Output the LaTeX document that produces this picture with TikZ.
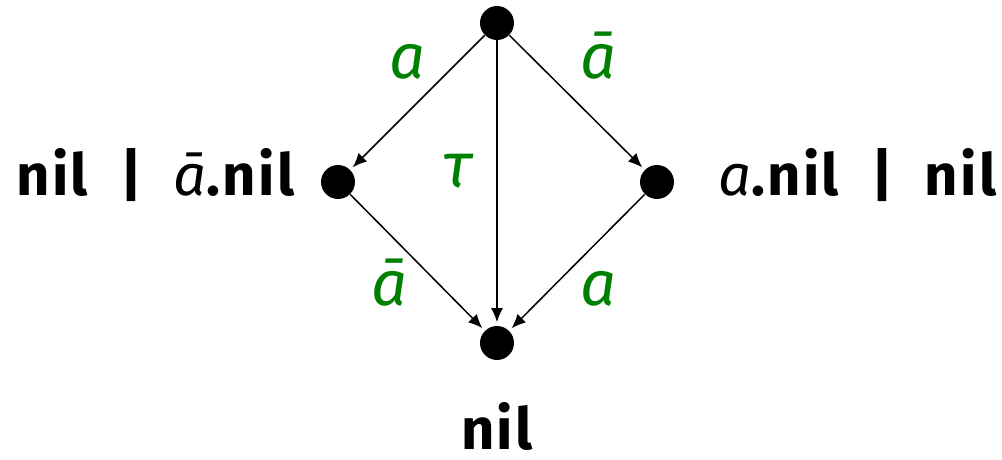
\documentclass[tikz,border=0pt]{standalone}
\usepackage{fontspec}
\setmainfont{Fira Sans}
\usetikzlibrary{arrows.meta}
\definecolor{lblgreen}{RGB}{0,128,0}
\newcommand{\pbar}{\hspace{0.55em}{\fontseries{sb}\selectfont|}\hspace{0.55em}}
\begin{document}
\begin{tikzpicture}[x=0.02cm,y=-0.02cm,
  dot/.style={circle,fill=black,inner sep=0pt,minimum size=0.68cm},
  edge/.style={line width=0.03cm,-{Latex[length=0.28cm,width=0.24cm]},shorten >=0.07cm},
  state/.style={inner sep=0pt,font=\fontsize{33}{40}\selectfont\addfontfeature{LetterSpace=4}\bfseries},
  act/.style={inner sep=0pt,text=lblgreen,font=\fontsize{36}{43}\selectfont\itshape,anchor=base}]
\useasboundingbox (0,0) rectangle (1002,460);
\node[dot] (t) at (497,23) {};
\node[dot] (l) at (338,182) {};
\node[dot] (r) at (657,182) {};
\node[dot] (b) at (497,343) {};
\draw[edge] (t) -- (l);
\draw[edge] (t) -- (r);
\draw[edge] (t) -- (b);
\draw[edge] (l) -- (b);
\draw[edge] (r) -- (b);
\node[act] (la) at (407,78) {a};
\node[act] (lab) at (598,78) {ā};
\node[act] (lt) at (458,187) {τ};
\node[act] (lbb) at (389,305) {ā};
\node[act] (lba) at (598,305) {a};
\node[state,anchor=base east] (sl) at (295,195) {nil\pbar{\mdseries\itshape ā}.nil};
\node[state,anchor=base west] (sr) at (718,195) {{\mdseries\itshape a}.nil\pbar nil};
\node[state,anchor=base] (sb) at (497,449) {nil};
\end{tikzpicture}
\end{document}
